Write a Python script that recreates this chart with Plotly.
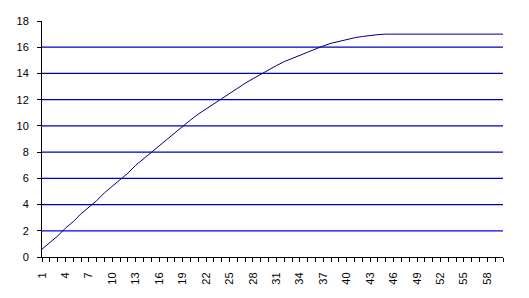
import plotly.graph_objects as go

x_vals = list(range(1, 61))
curve_vals = [0.6, 1.1, 1.6, 2.2, 2.7, 3.3, 3.8, 4.3, 4.9, 5.4,
              5.9, 6.4, 7.0, 7.5, 8.0, 8.5, 9.0, 9.5, 10.0, 10.45,
              10.9, 11.3, 11.7, 12.1, 12.5, 12.9, 13.25, 13.6, 13.95, 14.3,
              14.6, 14.9, 15.15, 15.4, 15.65, 15.9, 16.1, 16.3, 16.45, 16.6,
              16.72, 16.82, 16.9, 16.96, 17.0, 17.0, 17.0, 17.0, 17.0, 17.0,
              17.0, 17.0, 17.0, 17.0, 17.0, 17.0, 17.0, 17.0, 17.0, 17.0]
level_vals = [2] * 60
x_tick_vals = list(range(1, 61, 3))
y_tick_vals = list(range(0, 19, 2))
grid_vals = list(range(4, 17, 2))

fig = go.Figure()
fig.add_trace(go.Scatter(x=x_vals, y=level_vals, mode="lines",
                         line=dict(color="#0000FF", width=1.2), hoverinfo="skip"))
fig.add_trace(go.Scatter(x=x_vals, y=curve_vals, mode="lines",
                         line=dict(color="#000080", width=1), hoverinfo="skip"))

for g in grid_vals:
    fig.add_shape(type="line", xref="paper", x0=0, x1=1, yref="y", y0=g, y1=g,
                  line=dict(color="#0000C0", width=1.2), layer="below")

font = dict(family="Liberation Sans, Arial, sans-serif", size=11, color="black")
fig.update_layout(
    width=529, height=298,
    margin=dict(l=42, r=26, t=21, b=41, pad=0),
    paper_bgcolor="white", plot_bgcolor="white",
    showlegend=False, font=font,
    xaxis=dict(range=[1, 60], tickvals=x_tick_vals, ticktext=[str(v) for v in x_tick_vals],
               tickangle=-90, showgrid=False, zeroline=False,
               showline=True, linecolor="black", linewidth=1,
               ticks="outside", ticklen=4, tickcolor="black", tickwidth=1,
               minor=dict(dtick=1, tick0=1, ticks="outside", ticklen=4, tickcolor="black", tickwidth=1, showgrid=False),
               tickfont=font, ticklabelstandoff=6),
    yaxis=dict(range=[0, 18], tickvals=y_tick_vals, showgrid=False, zeroline=False,
               showline=True, linecolor="black", linewidth=1,
               ticks="outside", ticklen=4, tickcolor="black", tickwidth=1,
               tickfont=font, ticklabelstandoff=6),
)

fig.write_html("out.html")
